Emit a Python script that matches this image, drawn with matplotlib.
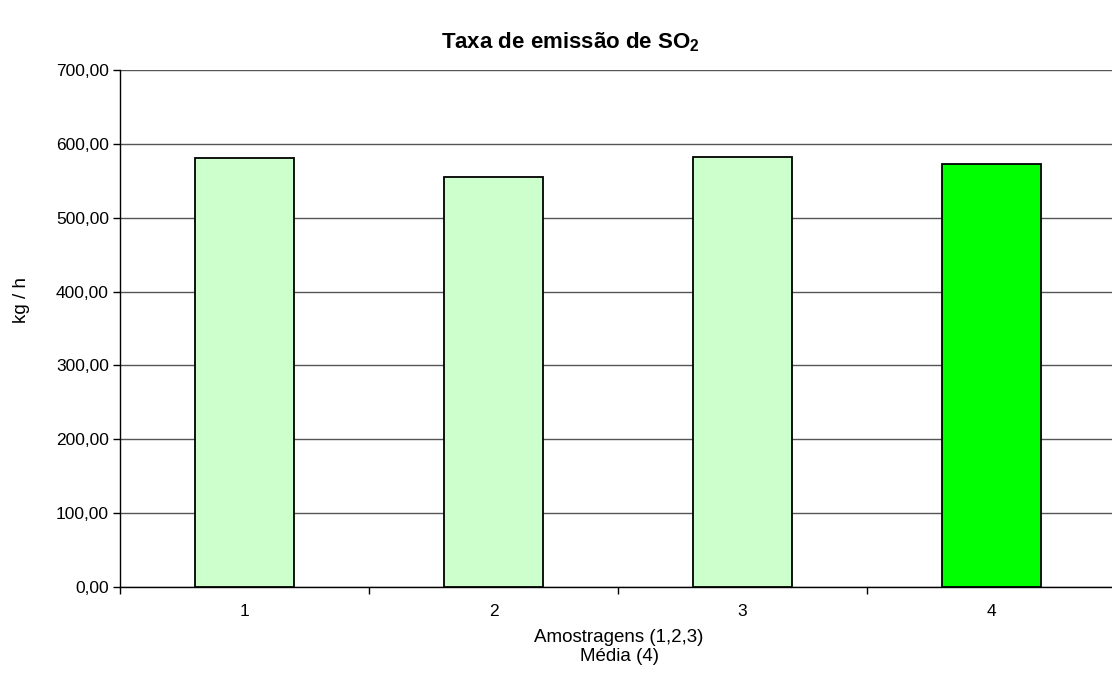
import matplotlib.pyplot as plt
from matplotlib.ticker import FuncFormatter, FixedLocator

plt.rcParams["font.family"] = ["Liberation Sans", "DejaVu Sans"]
plt.rcParams["mathtext.fontset"] = "custom"
plt.rcParams["mathtext.rm"] = "Liberation Sans"
plt.rcParams["mathtext.bf"] = "Liberation Sans:bold"

CATEGORIES = ["1", "2", "3", "4"]
VALUES = [580.4, 555.2, 582.8, 572.8]
COLORS = ["#CCFFCC", "#CCFFCC", "#CCFFCC", "#00FF00"]
Y_TICKS = [0, 100, 200, 300, 400, 500, 600, 700]

fig = plt.figure(figsize=(11.12, 6.75), dpi=100)
W, H = 1112, 675
left, right, top, bottom = 120, 1116, 70, 587
ax = fig.add_axes([left / W, 1 - bottom / H, (right - left) / W, (bottom - top) / H])

x = range(len(CATEGORIES))
ax.bar(x, VALUES, width=0.4, color=COLORS, edgecolor="black", linewidth=1.3, zorder=3)

ax.set_xlim(-0.5, len(CATEGORIES) - 0.5)
ax.set_ylim(0, 700)
ax.yaxis.set_major_locator(FixedLocator(Y_TICKS))
ax.yaxis.set_major_formatter(FuncFormatter(lambda v, p: f"{v:.2f}".replace(".", ",")))
ax.grid(axis="y", color="#555555", linewidth=1.0, zorder=0)

ax.set_xticks(list(x))
ax.set_xticklabels(CATEGORIES)
ax.set_xticks([i - 0.5 for i in range(len(CATEGORIES) + 1)], minor=True)
ax.tick_params(axis="x", which="major", length=0, pad=12, labelsize=12.5)
ax.tick_params(axis="x", which="minor", length=5, width=1, direction="out")
ax.tick_params(axis="y", length=5, width=1, direction="out", labelsize=12.5, pad=3)

for s in ["top", "right"]:
    ax.spines[s].set_visible(False)
ax.spines["left"].set_linewidth(1.0)
ax.spines["bottom"].set_linewidth(1.0)

fig.text(21 / W, 1 - 300 / H, "kg / h", ha="center", va="center", rotation=90, fontsize=13.5)
fig.text(619 / W, 1 - 647 / H, "Amostragens (1,2,3)\nMédia (4)", ha="center", va="center",
         fontsize=13.5, linespacing=1.1)
fig.text(570 / W, 1 - 42 / H, r"Taxa de emissão de SO$_\mathbf{2}$", ha="center", va="center",
         fontsize=16, fontweight="bold")

fig.savefig("out.png", dpi=100, facecolor="white")
